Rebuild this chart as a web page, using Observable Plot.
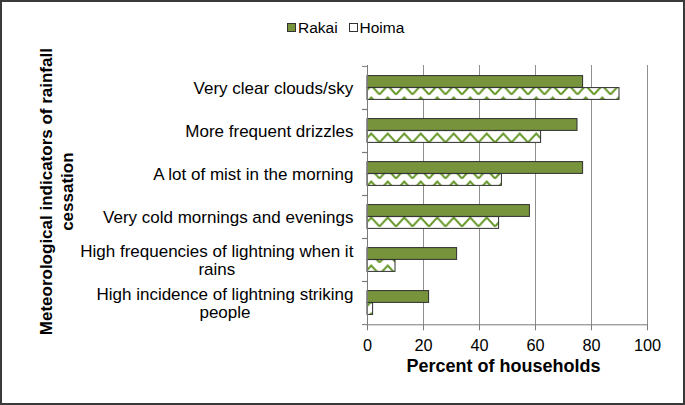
<!DOCTYPE html>
<html>
<head>
<meta charset="utf-8">
<script src="https://cdn.jsdelivr.net/npm/d3@7"></script>
<script src="https://cdn.jsdelivr.net/npm/@observablehq/plot@0.6"></script>
<style>
  body { margin: 0; background: #fff; font-family: "Liberation Sans", Arial, sans-serif; }
  #wrap { position: relative; width: 685px; height: 405px; overflow: hidden; background: #fff; }
  #chart { position: absolute; left: 0; top: 0; }
  #frame { position: absolute; left: 0; top: 0; width: 685px; height: 405px; box-sizing: border-box;
           border: 2px solid #3a3a3a; pointer-events: none; }
  .sw { position: absolute; box-sizing: border-box; width: 9px; height: 9px; border: 1px solid #333; }
  .lt { position: absolute; font-size: 15.5px; line-height: 1; color: #000; white-space: nowrap; }
</style>
</head>
<body>
<div id="wrap">
  <div id="chart"></div>
  <div id="legend">
    <div class="sw" style="left:286.5px;top:23px;background:#77933C"></div>
    <div class="lt" style="left:298px;top:19.6px">Rakai</div>
    <div class="sw" style="left:348.5px;top:23px;background:#fff"></div>
    <div class="lt" style="left:359.5px;top:19.6px">Hoima</div>
  </div>
  <div id="frame"></div>
</div>
<script>
const categories = [
  "Very clear clouds/sky",
  "More frequent drizzles",
  "A lot of mist in the morning",
  "Very cold mornings and evenings",
  "High frequencies of lightning when it\nrains",
  "High incidence of lightning striking\npeople"
];
const rakai = [77, 75, 77, 58, 32, 22];
const hoima = [90, 62, 48, 47, 10, 2];
const xTicks = [0, 20, 40, 60, 80, 100];
const xTitle = "Percent of households";
const yTitle = "Meteorological indicators of rainfall\ncessation";

const rakaiData = categories.map((c, i) => ({category: c, value: rakai[i]}));
const hoimaData = categories.map((c, i) => ({category: c, value: hoima[i]}));

const band = (324.3 - 65) / categories.length;

const chart = Plot.plot({
  width: 685,
  height: 405,
  marginLeft: 367,
  marginRight: 38,
  marginTop: 65,
  marginBottom: 80.7,
  style: {fontFamily: "Liberation Sans, Arial, sans-serif", color: "#000", background: "transparent", overflow: "visible"},
  x: {domain: [0, 100], ticks: xTicks, label: null},
  y: {domain: categories, padding: 0, label: null},
  marks: [
    Plot.gridX(xTicks.filter(d => d > 0), {stroke: "#8f8f8f", strokeOpacity: 1}),
    Plot.barX(rakaiData, {x: "value", y: "category", fill: "#77933C", stroke: "#2e2e2e", strokeWidth: 1, insetTop: 9.6, insetBottom: band - 21.6}),
    Plot.barX(hoimaData, {x: "value", y: "category", fill: "url(#hoima-zigzag)", stroke: "#2e2e2e", strokeWidth: 1, insetTop: 21.6, insetBottom: band - 33.6}),
    Plot.ruleX([0], {stroke: "#7a7a7a"}),
    Plot.frame({anchor: "bottom", stroke: "#7a7a7a"}),
    Plot.axisX({ticks: xTicks, tickSize: 6, tickPadding: 9, fontSize: 16.3, label: null, stroke: "#7a7a7a"}),
    Plot.axisY({text: null, tickSize: 5, dy: -band / 2, stroke: "#7a7a7a"}),
    Plot.axisY({text: null, tickSize: 5, dy: band / 2, stroke: "#7a7a7a"}),
    Plot.axisY({tickSize: 0, tickPadding: 14, fontSize: 17, lineHeight: 1.06, label: null}),
    Plot.text([xTitle], {frameAnchor: "bottom", dy: 46.7, dx: -4, fontSize: 18, fontWeight: "bold"}),
    Plot.text([yTitle], {frameAnchor: "left", textAnchor: "middle", rotate: -90, dx: -311.5, dy: -3.5, fontSize: 17, fontWeight: "bold", lineHeight: 1.24})
  ]
});

document.getElementById("chart").appendChild(chart);

// hatch pattern for Hoima bars
const ns = "http://www.w3.org/2000/svg";
const defs = document.createElementNS(ns, "defs");
defs.innerHTML = `<pattern id="hoima-zigzag" patternUnits="userSpaceOnUse" width="16.5" height="12">
  <rect width="16.5" height="12" fill="#fff"/>
  <path d="M0,10.5 L8.25,1.5 L16.5,10.5" fill="none" stroke="#6a9a2e" stroke-width="2"/>
</pattern>`;
chart.insertBefore(defs, chart.firstChild);

// center multi-line category labels as blocks (Excel style)
chart.querySelectorAll('g[aria-label="y-axis tick label"] text').forEach(t => {
  const w = t.getBBox().width;
  t.setAttribute("text-anchor", "middle");
  const tr = t.getAttribute("transform") || "";
  t.setAttribute("transform", tr + ` translate(${-w / 2},0)`);
});
</script>
</body>
</html>
